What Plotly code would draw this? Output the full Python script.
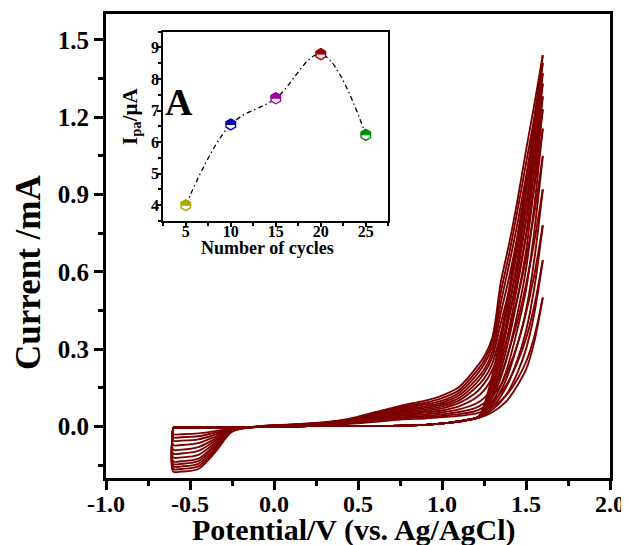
import plotly.graph_objects as go

# ---------------- main CV data ----------------
fwd_low_V = [-0.6, -0.45, -0.3, -0.1, 0.1, 0.3, 0.5, 0.7, 0.9, 1.05, 1.15]
fwd_low_I = [-0.004, -0.004, -0.003, -0.002, 0.0, 0.002, 0.002, 0.002, 0.006, 0.015, 0.025]

fwd_high_V = [1.22, 1.3, 1.38, 1.45, 1.5, 1.55, 1.6]
fwd_high_I = [
    [0.033, 0.055, 0.095, 0.16, 0.22, 0.33, 0.50],
    [0.034, 0.065, 0.12, 0.21, 0.30, 0.44, 0.645],
    [0.035, 0.075, 0.15, 0.26, 0.37, 0.54, 0.78],
    [0.036, 0.085, 0.18, 0.32, 0.45, 0.65, 0.92],
    [0.037, 0.095, 0.21, 0.38, 0.53, 0.76, 1.05],
    [0.038, 0.11, 0.25, 0.44, 0.61, 0.86, 1.155],
    [0.038, 0.12, 0.29, 0.50, 0.68, 0.94, 1.23],
    [0.039, 0.13, 0.32, 0.55, 0.74, 1.00, 1.28],
    [0.039, 0.145, 0.36, 0.60, 0.80, 1.06, 1.33],
    [0.04, 0.16, 0.39, 0.65, 0.85, 1.11, 1.37],
    [0.04, 0.18, 0.43, 0.70, 0.90, 1.15, 1.41],
    [0.04, 0.20, 0.46, 0.74, 0.95, 1.19, 1.44],
]

rev_V = [1.6, 1.55, 1.5, 1.45, 1.4, 1.35, 1.3, 1.25, 1.2, 1.1, 1.0, 0.9, 0.75, 0.6,
         0.45, 0.3, 0.1, -0.1, -0.25, -0.35, -0.45, -0.55, -0.6]
rev_I = [
    [0.50, 0.35, 0.25, 0.185, 0.135, 0.10, 0.078, 0.06, 0.05, 0.041, 0.036, 0.031, 0.027, 0.018, 0.01, 0.006, 0.003, -0.002, -0.008, -0.018, -0.027, -0.03, -0.03],
    [0.645, 0.47, 0.34, 0.25, 0.18, 0.13, 0.095, 0.075, 0.06, 0.048, 0.041, 0.036, 0.031, 0.021, 0.012, 0.007, 0.003, -0.002, -0.01, -0.024, -0.038, -0.042, -0.042],
    [0.78, 0.59, 0.44, 0.32, 0.23, 0.16, 0.12, 0.09, 0.072, 0.056, 0.047, 0.041, 0.035, 0.024, 0.013, 0.007, 0.003, -0.002, -0.011, -0.032, -0.05, -0.055, -0.055],
    [0.92, 0.72, 0.55, 0.41, 0.30, 0.20, 0.15, 0.11, 0.088, 0.066, 0.054, 0.047, 0.04, 0.027, 0.014, 0.008, 0.004, -0.002, -0.012, -0.04, -0.065, -0.072, -0.072],
    [1.05, 0.83, 0.65, 0.50, 0.37, 0.26, 0.19, 0.14, 0.11, 0.078, 0.062, 0.054, 0.045, 0.03, 0.016, 0.009, 0.004, -0.002, -0.013, -0.048, -0.08, -0.09, -0.09],
    [1.155, 0.93, 0.74, 0.57, 0.43, 0.31, 0.22, 0.165, 0.13, 0.09, 0.07, 0.06, 0.05, 0.033, 0.017, 0.01, 0.005, -0.001, -0.014, -0.056, -0.095, -0.105, -0.105],
    [1.23, 1.00, 0.80, 0.63, 0.48, 0.36, 0.245, 0.185, 0.15, 0.10, 0.078, 0.066, 0.055, 0.036, 0.019, 0.011, 0.005, -0.001, -0.015, -0.064, -0.11, -0.12, -0.12],
    [1.28, 1.05, 0.86, 0.69, 0.53, 0.40, 0.27, 0.205, 0.165, 0.11, 0.085, 0.072, 0.06, 0.039, 0.021, 0.012, 0.006, -0.001, -0.016, -0.072, -0.125, -0.135, -0.135],
    [1.33, 1.10, 0.92, 0.74, 0.58, 0.44, 0.29, 0.22, 0.18, 0.12, 0.092, 0.078, 0.065, 0.042, 0.023, 0.013, 0.006, -0.001, -0.017, -0.08, -0.135, -0.145, -0.145],
    [1.37, 1.15, 0.97, 0.79, 0.63, 0.48, 0.31, 0.24, 0.195, 0.13, 0.10, 0.085, 0.07, 0.046, 0.025, 0.014, 0.007, 0.0, -0.018, -0.088, -0.145, -0.155, -0.155],
    [1.41, 1.20, 1.02, 0.84, 0.67, 0.52, 0.33, 0.255, 0.21, 0.14, 0.11, 0.092, 0.075, 0.05, 0.027, 0.015, 0.007, 0.0, -0.019, -0.095, -0.155, -0.165, -0.165],
    [1.44, 1.25, 1.07, 0.88, 0.71, 0.56, 0.345, 0.27, 0.225, 0.152, 0.12, 0.10, 0.08, 0.055, 0.03, 0.016, 0.008, 0.0, -0.02, -0.1, -0.165, -0.175, -0.175],
]

x_tick_vals = [-1.0, -0.5, 0.0, 0.5, 1.0, 1.5, 2.0]
x_tick_text = ["-1.0", "-0.5", "0.0", "0.5", "1.0", "1.5", "2.0"]
y_tick_vals = [0.0, 0.3, 0.6, 0.9, 1.2, 1.5]
y_tick_text = ["0.0", "0.3", "0.6", "0.9", "1.2", "1.5"]

# ---------------- inset data ----------------
cycles = [5, 10, 15, 20, 25]
ipa = [4.0, 6.56, 7.39, 8.79, 6.23]
point_colors = ["#a8a800", "#0000b4", "#a000a0", "#a00000", "#008c00"]
inset_x_ticks = [5, 10, 15, 20, 25]
inset_y_ticks = [4, 5, 6, 7, 8, 9]

FONT = "Liberation Serif"
CV_COLOR = "#7d0000"

fig = go.Figure()

for k in range(len(fwd_high_I)):
    fx = fwd_low_V + fwd_high_V
    fy = fwd_low_I + fwd_high_I[k]
    fig.add_trace(go.Scatter(x=fx, y=fy, mode="lines",
                             line=dict(color=CV_COLOR, width=1.9, shape="spline", smoothing=0.8),
                             showlegend=False, hoverinfo="skip"))
    rx = rev_V + [fwd_low_V[0]]
    ry = rev_I[k] + [fwd_low_I[0]]
    fig.add_trace(go.Scatter(x=rx, y=ry, mode="lines",
                             line=dict(color=CV_COLOR, width=1.9, shape="spline", smoothing=0.8),
                             showlegend=False, hoverinfo="skip"))

# inset line + markers
fig.add_trace(go.Scatter(x=cycles, y=ipa, mode="lines", xaxis="x2", yaxis="y2",
                         line=dict(color="black", width=1.3, dash="5px,3px,1.5px,3px",
                                   shape="spline", smoothing=1.0),
                         showlegend=False, hoverinfo="skip"))
fig.add_trace(go.Scatter(x=cycles, y=ipa, mode="markers", xaxis="x2", yaxis="y2",
                         marker=dict(symbol="hexagon", size=11, color="white",
                                     line=dict(color=point_colors, width=1.4)),
                         showlegend=False, hoverinfo="skip"))

shapes = []
for cx, cy, col in zip(cycles, ipa, point_colors):
    shapes.append(dict(type="path", xref="x2", yref="y2", xsizemode="pixel", ysizemode="pixel",
                       xanchor=cx, yanchor=cy,
                       path="M -4.6,0 L -4.6,2.7 L 0,5.4 L 4.6,2.7 L 4.6,0 Z",
                       fillcolor=col, line=dict(color=col, width=1), layer="above"))

# target page px of plot area: x 106..610, y 14..478 ; page has an 8px body offset
OFF = 8
W, H = 629, 545
L, R, T, B = 106 - OFF, 610 - OFF, 14 - OFF, 478 - OFF
def px(xp):
    return (xp - OFF - L) / (R - L)
def py(yp):
    return (B - (yp - OFF)) / (B - T)

axis_common = dict(showline=True, linecolor="black", mirror=True, showgrid=False,
                   zeroline=False, automargin=False)

fig.update_layout(
    template="none",
    width=W, height=H,
    margin=dict(l=L, r=W - R, t=T, b=H - B, autoexpand=False),
    paper_bgcolor="white", plot_bgcolor="white",
    font=dict(family=FONT, color="black"),
    xaxis=dict(range=[-1.0, 2.0], tickmode="array", tickvals=x_tick_vals, ticktext=x_tick_text,
               ticks="outside", ticklen=9, tickwidth=2.5, linewidth=3, tickcolor="black",
               minor=dict(tickmode="linear", tick0=-1.0, dtick=0.25, ticks="outside", ticklen=5,
                          tickwidth=2.5, tickcolor="black"),
               tickfont=dict(family=FONT, size=24, color="black", weight="bold"),
               ticklabelstandoff=-7,
               **axis_common),
    yaxis=dict(range=[-0.2, 1.6], tickmode="array", tickvals=y_tick_vals, ticktext=y_tick_text,
               ticks="outside", ticklen=9, tickwidth=2.5, linewidth=3, tickcolor="black",
               minor=dict(tickmode="linear", tick0=0.0, dtick=0.15, ticks="outside", ticklen=5,
                          tickwidth=2.5, tickcolor="black"),
               tickfont=dict(family=FONT, size=25, color="black", weight="bold"),
               ticklabelstandoff=0,
               **axis_common),
    xaxis2=dict(domain=[px(163.3), px(388.3)], anchor="y2", range=[2.5, 27.5],
                tickmode="array", tickvals=inset_x_ticks, ticks="outside", ticklen=4, tickwidth=1.8,
                tickcolor="black",
                minor=dict(tickmode="linear", tick0=2.5, dtick=2.5, ticks="outside", ticklen=3,
                           tickwidth=1.5, tickcolor="black"),
                linewidth=2, tickfont=dict(family=FONT, size=16, color="black", weight="bold"),
                ticklabelstandoff=-9,
                **axis_common),
    yaxis2=dict(domain=[py(221), py(31.7)], anchor="x2", range=[3.5, 9.5],
                tickmode="array", tickvals=inset_y_ticks, ticks="outside", ticklen=4, tickwidth=1.8,
                tickcolor="black",
                minor=dict(tickmode="linear", tick0=3.5, dtick=0.5, ticks="outside", ticklen=3,
                           tickwidth=1.5, tickcolor="black"),
                linewidth=2, tickfont=dict(family=FONT, size=16, color="black", weight="bold"),
                ticklabelstandoff=-5,
                **axis_common),
    shapes=shapes,
    annotations=[
        dict(text="Current /mA", xref="paper", yref="paper", x=px(28), y=py(273),
             xanchor="center", yanchor="middle", textangle=-90, showarrow=False,
             font=dict(family=FONT, size=35, color="black", weight="bold")),
        dict(text="Potential/V (vs. Ag/AgCl)", xref="paper", yref="paper", x=px(354), y=py(530),
             xanchor="center", yanchor="middle", showarrow=False,
             font=dict(family=FONT, size=30, color="black", weight="bold")),
        dict(text="A", xref="paper", yref="paper", x=px(179), y=py(102),
             xanchor="center", yanchor="middle", showarrow=False,
             font=dict(family=FONT, size=38, color="black", weight="bold")),
        dict(text="I<sub>pa</sub>/μA", xref="paper", yref="paper", x=px(131), y=py(117),
             xanchor="center", yanchor="middle", textangle=-90, showarrow=False,
             font=dict(family=FONT, size=21, color="black", weight="bold")),
        dict(text="Number of cycles", xref="paper", yref="paper", x=px(267), y=py(248),
             xanchor="center", yanchor="middle", showarrow=False,
             font=dict(family=FONT, size=18, color="black", weight="bold")),
    ],
)

fig.write_html("out.html")
